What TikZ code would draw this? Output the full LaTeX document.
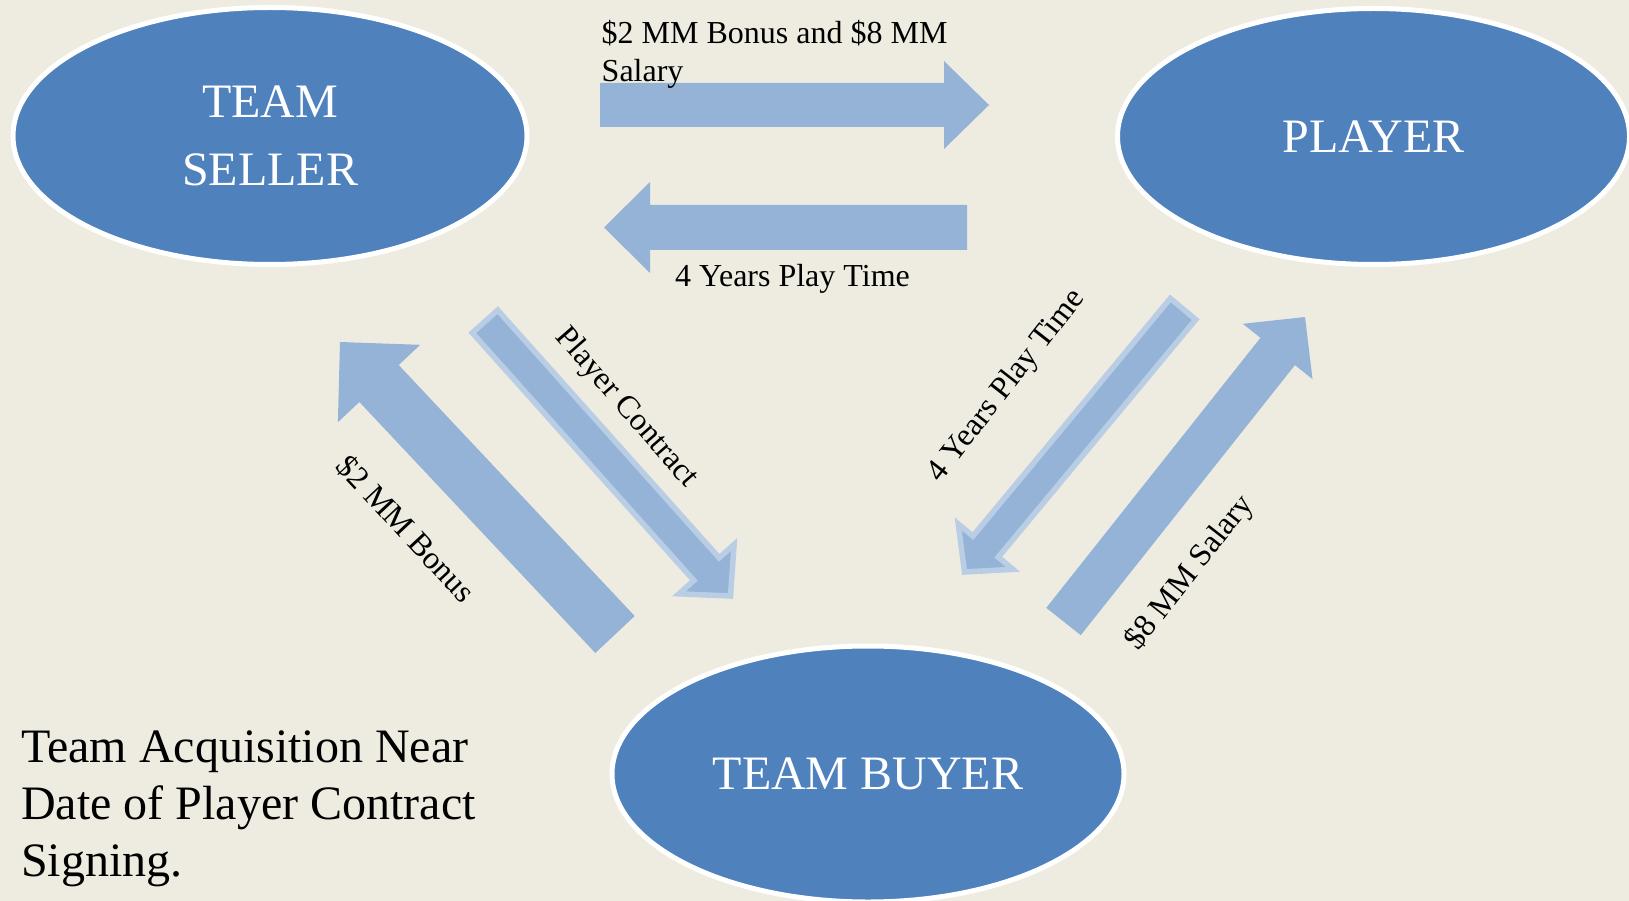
\documentclass[tikz,border=0pt]{standalone}
\usepackage{fontspec}
\setmainfont{Liberation Serif}
\usetikzlibrary{shapes.geometric,calc}
\definecolor{bgcol}{HTML}{EEECE1}
\definecolor{ellblue}{HTML}{4F81BD}
\definecolor{arrblue}{HTML}{95B3D7}
\definecolor{arredge}{HTML}{B9CDE5}
\begin{document}
\begin{tikzpicture}[x=1pt,y=-1pt,line join=miter,
	bubble/.style={ellipse,fill=ellblue,draw=white,line width=5pt,text=white,inner sep=0pt,align=center,font=\fontsize{48}{68}\selectfont},
	flow/.style={fill=arrblue},
	flowedge/.style={fill=arrblue,draw=arredge,line width=5.5pt},
	lab/.style={inner sep=0pt,font=\fontsize{32}{38}\selectfont}]
	%Vẽ nền
	\fill[bgcol] (0,0) rectangle (1629,901);
	\useasboundingbox (0,0) rectangle (1629,901);
	%Vẽ các hình elip
	\node[bubble,minimum width=514pt,minimum height=257pt] (seller) at (270,136) {TEAM\\SELLER};
	\node[bubble,minimum width=512pt,minimum height=256pt] (player) at (1373.5,136.5) {PLAYER};
	\node[bubble,minimum width=512pt,minimum height=256pt] (buyer) at (868,774) {TEAM BUYER};
	%Vẽ các mũi tên
	\coordinate (pay1) at (600,105); \coordinate (pay2) at (989,105);
	\coordinate (time1) at (967,227.5); \coordinate (time2) at (604,227.5);
	\coordinate (bonus1) at (615,634.5); \coordinate (bonus2) at (340,342);
	\coordinate (contract1) at (485,321.5); \coordinate (contract2) at (730.5,596);
	\coordinate (play1) at (1183,309); \coordinate (play2) at (964.5,572);
	\coordinate (salary1) at (1063.5,621.5); \coordinate (salary2) at (1305,317);
	\foreach \a/\b/\w/\h/\l/\s in {pay1/pay2/22pt/44pt/45pt/flow, time1/time2/22.5pt/45.5pt/46pt/flow,
		bonus1/bonus2/27pt/56.5pt/57pt/flow, contract1/contract2/17pt/37pt/36pt/flowedge,
		play1/play2/16.5pt/35.5pt/33pt/flowedge, salary1/salary2/22pt/44.5pt/44pt/flow}
	{
		\coordinate (hb) at ($(\b)!\l!(\a)$);
		\path[\s] ($(\a)!\w!90:(\b)$) -- ($(hb)!\w!90:(\b)$) -- ($(hb)!\h!90:(\b)$) -- (\b)
			-- ($(hb)!\h!-90:(\b)$) -- ($(hb)!\w!-90:(\b)$) -- ($(\a)!\w!-90:(\b)$) -- cycle;
	}
	%Ghi chú
	\node[lab,anchor=north west,align=left] (paytext) at (601.5,20) {\$2 MM Bonus and \$8 MM\\Salary};
	\node[lab,anchor=base] (timetext) at (792.5,286) {4 Years Play Time};
	\node[lab,rotate=-47] (bonustext) at (406,529) {\$2 MM Bonus};
	\node[lab,rotate=-49] (contracttext) at (626,408) {Player Contract};
	\node[lab,rotate=52] (playtext) at (1007,386) {4 Years Play Time};
	\node[lab,rotate=52] (salarytext) at (1190,573) {\$8 MM Salary};
	\node[anchor=north west,inner sep=0pt,align=left,font=\fontsize{48}{57}\selectfont] (note) at (21,731) {Team Acquisition Near\\Date of Player Contract\\Signing.};
\end{tikzpicture}
\end{document}
